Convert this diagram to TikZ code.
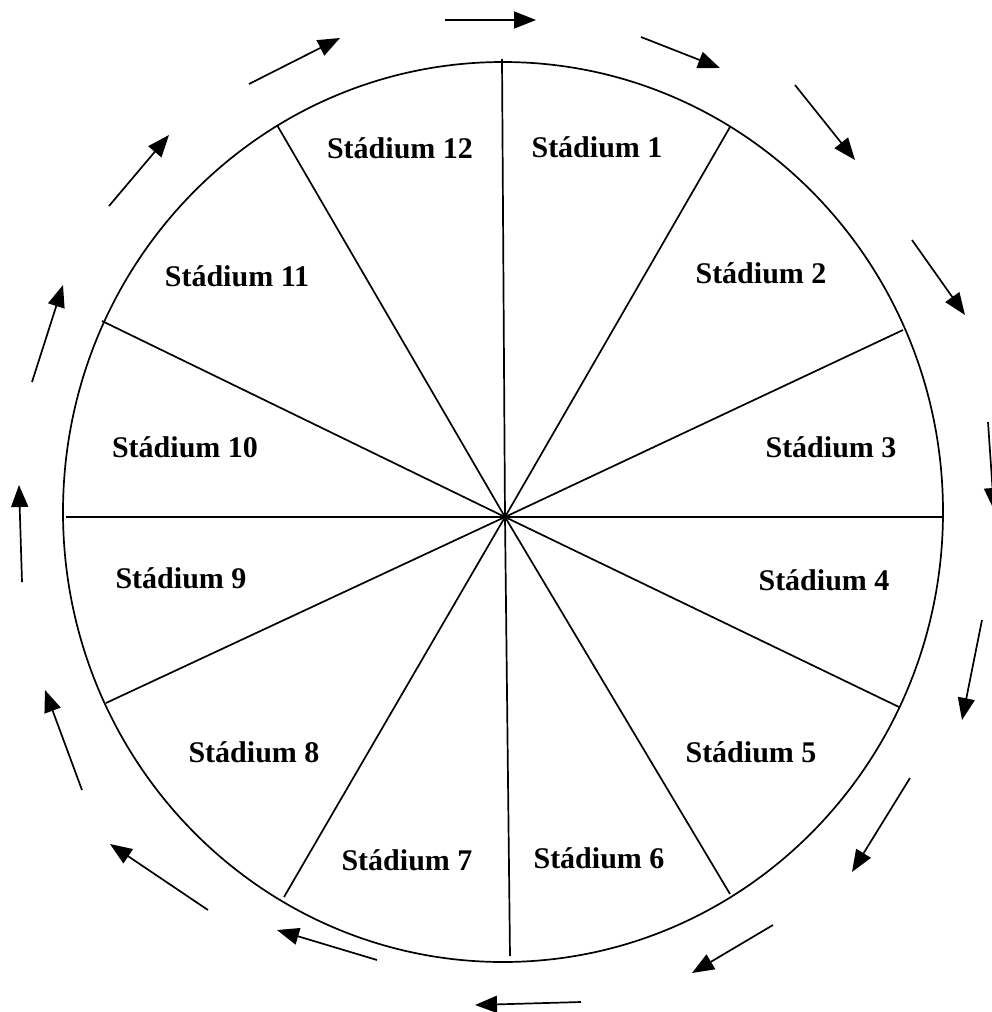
\documentclass[tikz,border=0pt]{standalone}
\usepackage{fontspec}
\setmainfont{Liberation Serif}
\usepackage{tikz}
\usetikzlibrary{arrows.meta}

\tikzset{
  stadium/.style={font=\bfseries\fontsize{30}{35}\selectfont, inner sep=0pt},
  spoke/.style={line width=1.7pt},
  flow/.style={line width=1.7pt}
}

\begin{document}
\begin{tikzpicture}[x=1pt,y=-1pt,>={Triangle[length=22pt,width=17pt]}]
  \useasboundingbox (0,0) rectangle (992,1012);
  \coordinate (O) at (505,517);
  \draw[spoke] (503,512) ellipse [x radius=440pt, y radius=450pt];
  \foreach \px/\py [count=\i from 0] in {502/59,730/127,903/330,944/517,899/707,730/894,
      510/956,284/897,106/703,66/517,102/321,277/125}{
    \coordinate (r\i) at (\px,\py);
    \draw[spoke] (O)--(r\i);
  }
  \node[stadium] (s1)  at (597,147) {Stádium 1};
  \node[stadium] (s2)  at (761,273) {Stádium 2};
  \node[stadium] (s3)  at (831,447) {Stádium 3};
  \node[stadium] (s4)  at (824,580) {Stádium 4};
  \node[stadium] (s5)  at (751,752) {Stádium 5};
  \node[stadium] (s6)  at (599,858) {Stádium 6};
  \node[stadium] (s7)  at (407,860) {Stádium 7};
  \node[stadium] (s8)  at (254,752) {Stádium 8};
  \node[stadium] (s9)  at (181,578) {Stádium 9};
  \node[stadium] (s10) at (185,447) {Stádium 10};
  \node[stadium] (s11) at (237,276) {Stádium 11};
  \node[stadium] (s12) at (400,148) {Stádium 12};
  \foreach \xa/\ya/\xb/\yb [count=\i] in {445/20/536/20, 641/37/720/68, 795/85/855/160,
      912/240/965/315, 988/422/994/510, 982/620/962/720, 910/778/852/872,
      773/925/692/973, 581/1002/475/1005, 377/960/277/930, 208/910/110/844,
      82/790/45/690, 22/582/19/485, 32/382/63/285, 109/206/169/135, 249/84/340/38}{
    \coordinate (t\i) at (\xa,\ya);
    \coordinate (h\i) at (\xb,\yb);
    \draw[flow,->] (t\i)--(h\i);
  }
\end{tikzpicture}
\end{document}
